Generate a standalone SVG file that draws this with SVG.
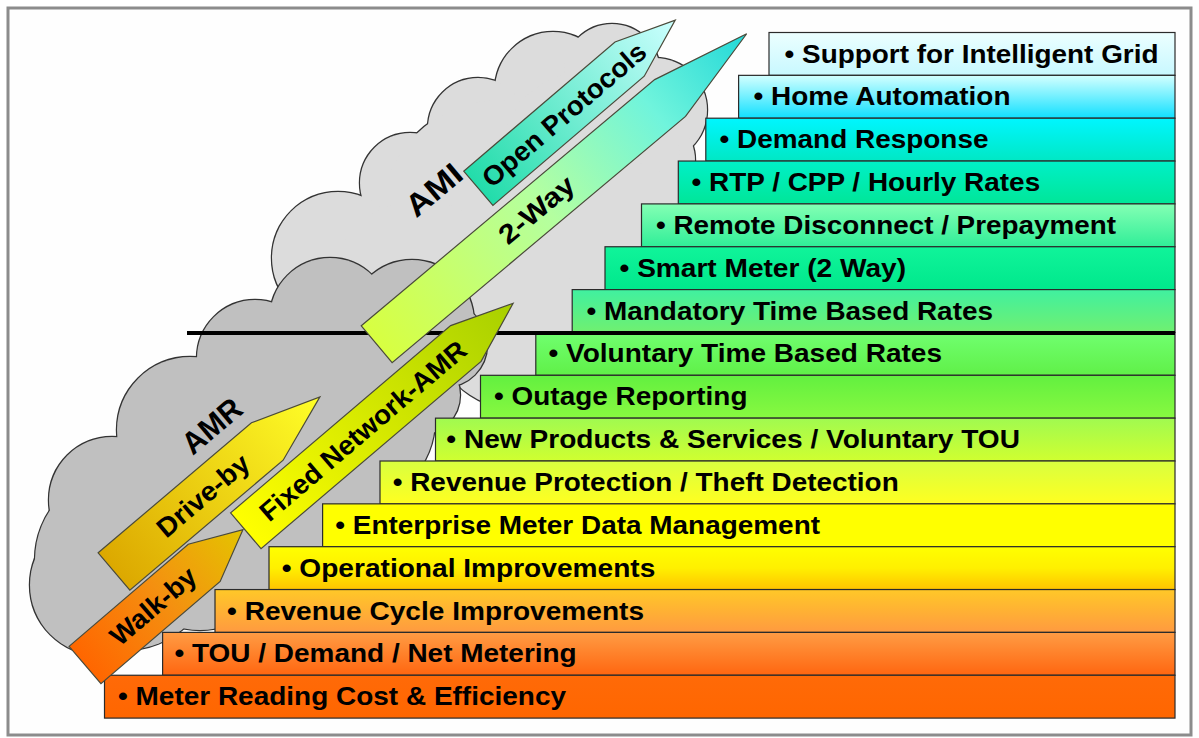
<svg xmlns="http://www.w3.org/2000/svg" width="1199" height="738" viewBox="0 0 1199 738">
<defs>
<style>
.bar{stroke:#2b2b2b;stroke-width:1.2}
.bt{font-family:"Liberation Sans",Arial,sans-serif;font-weight:bold;font-size:26px;fill:#000}
.arw{stroke:#4a4a3a;stroke-width:1.2}
.at{font-family:"Liberation Sans",Arial,sans-serif;font-weight:bold;font-size:27px;fill:#000}
.ct{font-family:"Liberation Sans",Arial,sans-serif;font-weight:bold;font-size:31px;fill:#000}
.cs{stroke:#333;stroke-width:2.4}
</style>
<linearGradient id="g1" x1="0" y1="0" x2="0" y2="1"><stop offset="0" stop-color="#ecffff"/><stop offset="1" stop-color="#c8f8ff"/></linearGradient>
<linearGradient id="g2" x1="0" y1="0" x2="0" y2="1"><stop offset="0" stop-color="#d4ffff"/><stop offset="1" stop-color="#10e0ff"/></linearGradient>
<linearGradient id="g3" x1="0" y1="0" x2="0" y2="1"><stop offset="0" stop-color="#00f6ff"/><stop offset="1" stop-color="#00e8c4"/></linearGradient>
<linearGradient id="g4" x1="0" y1="0" x2="0" y2="1"><stop offset="0" stop-color="#00f0c8"/><stop offset="1" stop-color="#00e698"/></linearGradient>
<linearGradient id="g5" x1="0" y1="0" x2="0" y2="1"><stop offset="0" stop-color="#84ffb4"/><stop offset="1" stop-color="#30ee98"/></linearGradient>
<linearGradient id="g6" x1="0" y1="0" x2="0" y2="1"><stop offset="0" stop-color="#10f49a"/><stop offset="1" stop-color="#00e88c"/></linearGradient>
<linearGradient id="g7" x1="0" y1="0" x2="0" y2="1"><stop offset="0" stop-color="#40f0a0"/><stop offset="1" stop-color="#70f070"/></linearGradient>
<linearGradient id="g8" x1="0" y1="0" x2="0" y2="1"><stop offset="0" stop-color="#70ff70"/><stop offset="1" stop-color="#60f048"/></linearGradient>
<linearGradient id="g9" x1="0" y1="0" x2="0" y2="1"><stop offset="0" stop-color="#62f040"/><stop offset="1" stop-color="#88f840"/></linearGradient>
<linearGradient id="g10" x1="0" y1="0" x2="0" y2="1"><stop offset="0" stop-color="#a0fa50"/><stop offset="1" stop-color="#d0ff30"/></linearGradient>
<linearGradient id="g11" x1="0" y1="0" x2="0" y2="1"><stop offset="0" stop-color="#d8ff40"/><stop offset="1" stop-color="#ffff20"/></linearGradient>
<linearGradient id="g12" x1="0" y1="0" x2="0" y2="1"><stop offset="0" stop-color="#ffff00"/><stop offset="1" stop-color="#ffff00"/></linearGradient>
<linearGradient id="g13" x1="0" y1="0" x2="0" y2="1"><stop offset="0" stop-color="#ffff00"/><stop offset="0.5" stop-color="#fff000"/><stop offset="1" stop-color="#ffc400"/></linearGradient>
<linearGradient id="g14" x1="0" y1="0" x2="0" y2="1"><stop offset="0" stop-color="#ffc828"/><stop offset="1" stop-color="#ff9a40"/></linearGradient>
<linearGradient id="g15" x1="0" y1="0" x2="0" y2="1"><stop offset="0" stop-color="#ff9c44"/><stop offset="1" stop-color="#ff6610"/></linearGradient>
<linearGradient id="g16" x1="0" y1="0" x2="0" y2="1"><stop offset="0" stop-color="#ff6a08"/><stop offset="1" stop-color="#ff6600"/></linearGradient>
<linearGradient id="aWalk" x1="0" y1="0" x2="1" y2="0"><stop offset="0" stop-color="#ff6600"/><stop offset="0.5" stop-color="#f49010"/><stop offset="1" stop-color="#e4c400"/></linearGradient>
<linearGradient id="aDrive" x1="0" y1="0" x2="1" y2="0"><stop offset="0" stop-color="#dca800"/><stop offset="1" stop-color="#ffff28"/></linearGradient>
<linearGradient id="aFixed" x1="0" y1="0" x2="1" y2="0"><stop offset="0" stop-color="#ffff00"/><stop offset="1" stop-color="#a8d000"/></linearGradient>
<linearGradient id="aTwo" x1="0" y1="0" x2="1" y2="0"><stop offset="0" stop-color="#d8ff40"/><stop offset="0.45" stop-color="#b4ffa0"/><stop offset="0.75" stop-color="#70f4dc"/><stop offset="1" stop-color="#22d8d8"/></linearGradient>
<linearGradient id="aOpen" x1="0" y1="0" x2="1" y2="0"><stop offset="0" stop-color="#22dcaa"/><stop offset="1" stop-color="#ccffff"/></linearGradient>
</defs>

<rect x="8" y="8" width="1183" height="727" fill="#fefefe" stroke="#8c8c8c" stroke-width="3"/>

<g id="cloud-ami" fill="#dcdcdc">
<g class="cs">
<circle cx="553" cy="90" r="58"/><circle cx="612" cy="72" r="48"/><circle cx="655" cy="110" r="52"/><circle cx="650" cy="160" r="45"/>
<circle cx="478" cy="128" r="50"/><circle cx="410" cy="183" r="50"/><circle cx="338" cy="258" r="66"/>
<circle cx="500" cy="220" r="120"/><circle cx="590" cy="160" r="90"/><circle cx="420" cy="290" r="90"/><circle cx="520" cy="320" r="90"/><circle cx="620" cy="230" r="70"/>
</g>
<g>
<circle cx="553" cy="90" r="58"/><circle cx="612" cy="72" r="48"/><circle cx="655" cy="110" r="52"/><circle cx="650" cy="160" r="45"/>
<circle cx="478" cy="128" r="50"/><circle cx="410" cy="183" r="50"/><circle cx="338" cy="258" r="66"/>
<circle cx="500" cy="220" r="120"/><circle cx="590" cy="160" r="90"/><circle cx="420" cy="290" r="90"/><circle cx="520" cy="320" r="90"/><circle cx="620" cy="230" r="70"/>
</g>
<text class="ct" transform="translate(434,190) rotate(-40)" text-anchor="middle" dominant-baseline="central" textLength="64" lengthAdjust="spacingAndGlyphs">AMI</text>
</g>

<g id="cloud-amr" fill="#c0c0c0">
<g class="cs">
<circle cx="100" cy="585" r="70"/><circle cx="112" cy="500" r="63"/><circle cx="190" cy="430" r="73"/><circle cx="255" cy="358" r="58"/>
<circle cx="330" cy="318" r="60"/><circle cx="412" cy="322" r="62"/><circle cx="445" cy="345" r="42"/><circle cx="420" cy="395" r="40"/>
<circle cx="260" cy="470" r="125"/><circle cx="125" cy="560" r="90"/><circle cx="350" cy="420" r="85"/><circle cx="200" cy="550" r="80"/>
</g>
<g>
<circle cx="100" cy="585" r="70"/><circle cx="112" cy="500" r="63"/><circle cx="190" cy="430" r="73"/><circle cx="255" cy="358" r="58"/>
<circle cx="330" cy="318" r="60"/><circle cx="412" cy="322" r="62"/><circle cx="445" cy="345" r="42"/><circle cx="420" cy="395" r="40"/>
<circle cx="260" cy="470" r="125"/><circle cx="125" cy="560" r="90"/><circle cx="350" cy="420" r="85"/><circle cx="200" cy="550" r="80"/>
</g>
<text class="ct" transform="translate(212,426) rotate(-40)" text-anchor="middle" dominant-baseline="central" textLength="68" lengthAdjust="spacingAndGlyphs">AMR</text>
</g>

<g id="bar-1"><rect class="bar" x="769" y="32.5" width="406" height="42.85" fill="url(#g1)"/><text class="bt" x="784.5" y="62.5" textLength="374" lengthAdjust="spacingAndGlyphs">• Support for Intelligent Grid</text></g>
<g id="bar-2"><rect class="bar" x="738.6" y="75.35" width="436.4" height="42.85" fill="url(#g2)"/><text class="bt" x="753.5" y="105.35" textLength="257" lengthAdjust="spacingAndGlyphs">• Home Automation</text></g>
<g id="bar-3"><rect class="bar" x="705.8" y="118.2" width="469.2" height="42.85" fill="url(#g3)"/><text class="bt" x="719.5" y="148.2" textLength="269" lengthAdjust="spacingAndGlyphs">• Demand Response</text></g>
<g id="bar-4"><rect class="bar" x="678.3" y="161.05" width="496.7" height="42.85" fill="url(#g4)"/><text class="bt" x="691.5" y="191.05" textLength="348.7" lengthAdjust="spacingAndGlyphs">• RTP / CPP / Hourly Rates</text></g>
<g id="bar-5"><rect class="bar" x="641.5" y="203.9" width="533.5" height="42.85" fill="url(#g5)"/><text class="bt" x="656" y="233.9" textLength="460" lengthAdjust="spacingAndGlyphs">• Remote Disconnect / Prepayment</text></g>
<g id="bar-6"><rect class="bar" x="605" y="246.75" width="570" height="42.85" fill="url(#g6)"/><text class="bt" x="619.5" y="276.75" textLength="286.5" lengthAdjust="spacingAndGlyphs">• Smart Meter (2 Way)</text></g>
<g id="bar-7"><rect class="bar" x="572.2" y="289.6" width="602.8" height="42.85" fill="url(#g7)"/><text class="bt" x="586.5" y="319.6" textLength="406.5" lengthAdjust="spacingAndGlyphs">• Mandatory Time Based Rates</text></g>
<g id="bar-8"><rect class="bar" x="535.8" y="332.45" width="639.2" height="42.85" fill="url(#g8)"/><text class="bt" x="548.5" y="362.45" textLength="393.5" lengthAdjust="spacingAndGlyphs">• Voluntary Time Based Rates</text></g>
<g id="bar-9"><rect class="bar" x="480.5" y="375.3" width="694.5" height="42.85" fill="url(#g9)"/><text class="bt" x="494" y="405.3" textLength="253.5" lengthAdjust="spacingAndGlyphs">• Outage Reporting</text></g>
<g id="bar-10"><rect class="bar" x="435.5" y="418.15" width="739.5" height="42.85" fill="url(#g10)"/><text class="bt" x="446.3" y="448.15" textLength="573.7" lengthAdjust="spacingAndGlyphs">• New Products &amp; Services / Voluntary TOU</text></g>
<g id="bar-11"><rect class="bar" x="380" y="461" width="795" height="42.85" fill="url(#g11)"/><text class="bt" x="392.7" y="491" textLength="506" lengthAdjust="spacingAndGlyphs">• Revenue Protection / Theft Detection</text></g>
<g id="bar-12"><rect class="bar" x="322.6" y="503.85" width="852.4" height="42.85" fill="url(#g12)"/><text class="bt" x="335.3" y="533.85" textLength="484.7" lengthAdjust="spacingAndGlyphs">• Enterprise Meter Data Management</text></g>
<g id="bar-13"><rect class="bar" x="269" y="546.7" width="906" height="42.85" fill="url(#g13)"/><text class="bt" x="281.7" y="576.7" textLength="373.6" lengthAdjust="spacingAndGlyphs">• Operational Improvements</text></g>
<g id="bar-14"><rect class="bar" x="215" y="589.55" width="960" height="42.85" fill="url(#g14)"/><text class="bt" x="227" y="619.55" textLength="417" lengthAdjust="spacingAndGlyphs">• Revenue Cycle Improvements</text></g>
<g id="bar-15"><rect class="bar" x="162.6" y="632.4" width="1012.4" height="42.85" fill="url(#g15)"/><text class="bt" x="174.5" y="662.4" textLength="402.2" lengthAdjust="spacingAndGlyphs">• TOU / Demand / Net Metering</text></g>
<g id="bar-16"><rect class="bar" x="104.5" y="675.25" width="1070.5" height="42.85" fill="url(#g16)"/><text class="bt" x="118" y="705.25" textLength="448" lengthAdjust="spacingAndGlyphs">• Meter Reading Cost &amp; Efficiency</text></g>

<g id="connectors">
<line id="divider" x1="187" y1="333" x2="1175" y2="333" stroke="#000" stroke-width="4"/>
<g id="arrow-2way" transform="translate(376.7,344.2) rotate(-40)"><path class="arw" d="M0,-24 H383 L483,0 L383,24 H0 Z" fill="url(#aTwo)"/><text class="at" x="209" y="0" text-anchor="middle" dominant-baseline="central" textLength="90" lengthAdjust="spacingAndGlyphs">2-Way</text></g>
<g id="arrow-open" transform="translate(478.3,188.3) rotate(-40.5)"><path class="arw" d="M0,-22.5 H199 L259,0 L199,22.5 H0 Z" fill="url(#aOpen)"/><text class="at" x="113" y="0" text-anchor="middle" dominant-baseline="central" textLength="206" lengthAdjust="spacingAndGlyphs">Open Protocols</text></g>
<g id="arrow-fixed" transform="translate(245.8,530.8) rotate(-40.4)"><path class="arw" d="M0,-23.5 H289 L351,0 L289,23.5 H0 Z" fill="url(#aFixed)"/><text class="at" x="154" y="0" text-anchor="middle" dominant-baseline="central" textLength="262" lengthAdjust="spacingAndGlyphs">Fixed Network-AMR</text></g>
<g id="arrow-drive" transform="translate(114,571.5) rotate(-40.3)"><path class="arw" d="M0,-24.5 H201 L270,0 L201,24.5 H0 Z" fill="url(#aDrive)"/><text class="at" x="117" y="0" text-anchor="middle" dominant-baseline="central" textLength="112" lengthAdjust="spacingAndGlyphs">Drive-by</text></g>
<g id="arrow-walk" transform="translate(85,665) rotate(-40.6)"><path class="arw" d="M0,-24.5 H157 L208,0 L157,24.5 H0 Z" fill="url(#aWalk)"/><text class="at" x="90" y="0" text-anchor="middle" dominant-baseline="central" textLength="104" lengthAdjust="spacingAndGlyphs">Walk-by</text></g>
</g>
</svg>
